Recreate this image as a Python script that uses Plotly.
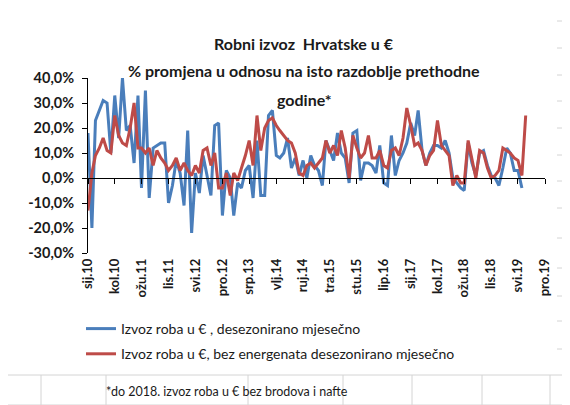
import pandas as pd
import plotly.graph_objects as go

# ---- data ----
start_month = "2010-01-01"
blue_name = "Izvoz roba u € , desezonirano mjesečno"
red_name = "Izvoz roba u €, bez energenata desezonirano mjesečno"

blue_vals = [18, -20, 23, 27, 31, 30, 10, 33, 16, 40,
             19, 21, 6, 33, -4, 35, -8, 12, 13, 14,
             14, -10, -3, 7, 2, -11, 19, -22, 2, -6,
             9, 1, -7, 21, 22, -15, 3, 0, -15, -2,
             -4, 3, 5, -8, 15, -7, -7, 25, 27, 9,
             8, 10, 16, 4, 8, 1, 7, 0, 9, 5,
             3, -3, 15, 11, 7, 18, 10, 8, -2, 18,
             19, -1, 6, 6, 5, 2, 13, -2, -3, 17,
             1, 7, 10, 14, 22, 17, 27, 11, 5, 10,
             13, 13, 12, 15, 10, 0, -2, -4, -5, 14,
             6, 1, 10, 11, 5, 1, 0, -3, 4, 12,
             10, 3, 3, -4]

red_vals = [-13, 2, 9, 12, 16, 11, 10, 25, 17, 14,
            13, 20, 30, 12, 12, 10, 12, 5, 11, 8,
            6, 3, 5, 8, 3, 6, 3, 1, 5, 2,
            11, 12, 5, 10, -4, -4, 2, -7, 2, -1,
            4, 9, 15, 5, 25, 11, 20, 23, 24, 21,
            19, 17, 15, 14, 10, 2, 1, 5, 6, 4,
            6, 8, 15, 10, 13, 9, 19, 12, 0, 17,
            12, 8, 10, 17, 8, 8, 11, 5, 4, 11,
            12, 9, 16, 28, 21, 13, 14, 11, 5, 9,
            11, 23, 13, 11, 9, -3, 1, -2, -2, 15,
            8, 0, 11, 10, 4, 0, 1, 3, 12, 11,
            10, 8, 7, 1, 25]

x_tick_labels = ["sij.10", "kol.10", "ožu.11", "lis.11", "svi.12", "pro.12",
                 "srp.13", "vlj.14", "ruj.14", "tra.15", "stu.15", "lip.16",
                 "sij.17", "kol.17", "ožu.18", "lis.18", "svi.19", "pro.19"]
y_tick_vals = [40, 30, 20, 10, 0, -10, -20, -30]
y_tick_labels = ["40,0%", "30,0%", "20,0%", "10,0%", "0,0%", "-10,0%", "-20,0%", "-30,0%"]

title_lines = ["Robni izvoz  Hrvatske u €",
               "% promjena u odnosu na isto razdoblje prethodne",
               "godine*"]
footnote = "*do 2018. izvoz roba u € bez brodova i nafte"

# ---- derived ----
months = pd.date_range(start_month, periods=len(red_vals), freq="MS")
blue_x = months[:len(blue_vals)]
tick_dates = pd.date_range(start_month, periods=len(x_tick_labels), freq="7MS")
x_range = [tick_dates[0], tick_dates[-1]]

W, H = 570, 405
L, R, T, B = 80, 33, 70, 160
PW, PH = W - L - R, H - T - B


def px2x(px):
    return (px - L) / PW


def py2y(py):
    return (H - B - py) / PH


FONT = "Lato"
BLUE = "#4A7EBB"
RED = "#BE4B48"

fig = go.Figure()
fig.add_trace(go.Scatter(x=blue_x, y=blue_vals, mode="lines", name=blue_name,
                         line=dict(color=BLUE, width=3), legendgroup="a"))
fig.add_trace(go.Scatter(x=months, y=red_vals, mode="lines", name=red_name,
                         line=dict(color=RED, width=3), legendgroup="b"))
# dummy trace to render the zero-crossing axis
fig.add_trace(go.Scatter(x=[months[0]], y=[None], xaxis="x2", yaxis="y",
                         showlegend=False, hoverinfo="skip"))

fig.update_layout(
    width=W, height=H,
    margin=dict(l=L, r=R, t=T, b=B),
    paper_bgcolor="white", plot_bgcolor="white",
    font=dict(family=FONT, color="#1a1a1a"),
    showlegend=True,
    legend=dict(x=px2x(73), y=py2y(305), xanchor="left", yanchor="top",
                font=dict(size=14, family=FONT, color="#1a1a1a"),
                traceorder="grouped", tracegroupgap=4,
                bgcolor="rgba(0,0,0,0)"),
    xaxis=dict(range=x_range, tickmode="array", tickvals=tick_dates, ticktext=x_tick_labels,
               tickangle=-90, showgrid=False, zeroline=False, showline=False, ticks="",
               tickfont=dict(size=13, family=FONT, color="#1a1a1a", weight="bold"),
               ticklabelstandoff=2, automargin=False),
    xaxis2=dict(range=x_range, overlaying="x", anchor="free", position=py2y(H - B - PH * 30 / 70),
                tickmode="array", tickvals=tick_dates, showticklabels=False,
                showline=True, linecolor="black", linewidth=1, ticks="outside",
                ticklen=5, tickcolor="black", showgrid=False, zeroline=False),
    yaxis=dict(range=[-30, 40], tickmode="array", tickvals=y_tick_vals, ticktext=y_tick_labels,
               showgrid=False, zeroline=False, showline=True, linecolor="black", linewidth=1,
               ticks="outside", ticklen=5, tickcolor="black", ticklabelstandoff=5,
               automargin=False,
               tickfont=dict(size=14.5, family=FONT, color="#1a1a1a", weight="bold")),
)

# title lines
for i, (txt, ypx) in enumerate(zip(title_lines, [35, 63, 91])):
    fig.add_annotation(text=f"<b>{txt}</b>", x=px2x(296), y=py2y(ypx), xref="paper", yref="paper",
                       xanchor="center", yanchor="middle", showarrow=False,
                       font=dict(size=16, family=FONT, color="#1a1a1a"))

# footnote
fig.add_annotation(text=footnote, x=px2x(96), y=py2y(383), xref="paper", yref="paper",
                   xanchor="left", yanchor="middle", showarrow=False,
                   font=dict(size=12.5, family=FONT, color="#1a1a1a"))

# spreadsheet cell grid around the chart
GRID = "#d4d4d4"
for ypx in [367, 397]:
    fig.add_shape(type="line", xref="paper", yref="paper", x0=px2x(0), x1=px2x(W),
                  y0=py2y(ypx), y1=py2y(ypx), line=dict(color=GRID, width=1), layer="below")
for xpx in [33, 98, 240, 335, 404, 474, 542]:
    fig.add_shape(type="line", xref="paper", yref="paper", x0=px2x(xpx), x1=px2x(xpx),
                  y0=py2y(367), y1=py2y(H), line=dict(color=GRID, width=1), layer="below")
for ypx in [13, 40, 67, 93, 120, 147, 173, 200, 230, 260, 288, 313, 341]:
    fig.add_shape(type="line", xref="paper", yref="paper", x0=px2x(549), x1=px2x(W),
                  y0=py2y(ypx), y1=py2y(ypx), line=dict(color=GRID, width=1), layer="below")

fig.write_html("out.html")
